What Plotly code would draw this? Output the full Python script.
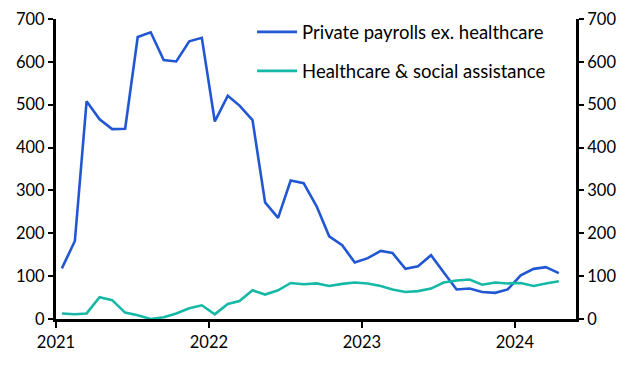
import plotly.graph_objects as go
import pandas as pd

dates = [d.strftime("%Y-%m-%d") for d in pd.date_range("2021-01-01", periods=40, freq="MS") + pd.Timedelta(days=14)]

private_ex_health = [118, 182, 508, 466, 443, 444, 658, 669, 604, 601, 648, 656,
                     461, 521, 498, 464, 272, 236, 323, 317, 263, 193, 172, 132,
                     142, 159, 154, 117, 123, 149, 109, 69, 71, 63, 61, 69,
                     102, 117, 121, 107]
healthcare = [13, 11, 13, 51, 44, 15, 9, 0, 4, 13, 25, 32,
              11, 35, 42, 67, 57, 67, 84, 81, 83, 77, 82, 85,
              83, 77, 69, 63, 65, 71, 85, 90, 92, 80, 85, 83,
              84, 77, 83, 88]

names = ["Private payrolls ex. healthcare", "Healthcare & social assistance"]
colors = ["#2157D3", "#16B8A6"]
year_ticks = ["2021-01-01", "2022-01-01", "2023-01-01", "2024-01-01"]
year_labels = ["2021", "2022", "2023", "2024"]

FONT = "Lato, Open Sans, sans-serif"

fig = go.Figure()
fig.add_trace(go.Scatter(x=dates, y=private_ex_health, name=names[0], mode="lines",
                         line=dict(color=colors[0], width=2.6), legendgroup="a"))
fig.add_trace(go.Scatter(x=dates, y=healthcare, name=names[1], mode="lines",
                         line=dict(color=colors[1], width=2.6), legendgroup="b"))
fig.add_trace(go.Scatter(x=dates, y=healthcare, yaxis="y2", mode="lines",
                         line=dict(width=0), showlegend=False, hoverinfo="skip"))

axis_common = dict(showgrid=False, zeroline=False, showline=True, linecolor="black",
                   linewidth=3, ticks="outside", tickwidth=2, tickcolor="black",
                   tickfont=dict(size=16.5), automargin=False,
                   ticklabeloverflow="allow")

# page body has an 8px default margin, so the figure is drawn 8px smaller
fig.update_layout(
    width=628, height=371,
    margin=dict(l=48, r=60, t=11, b=60, autoexpand=False),
    plot_bgcolor="white", paper_bgcolor="white",
    font=dict(family=FONT, size=16.5, color="black"),
    showlegend=True,
    legend=dict(x=0.377, y=1.019, xanchor="left", yanchor="top",
                bgcolor="rgba(0,0,0,0)", tracegroupgap=12,
                font=dict(size=18.5, family=FONT), itemwidth=40),
    xaxis=dict(type="date", range=["2021-01-01", "2024-05-26"],
               tickvals=year_ticks, ticktext=year_labels, ticklen=6, **axis_common),
    yaxis=dict(range=[0, 700], dtick=100, ticklen=5, **axis_common),
    yaxis2=dict(range=[0, 700], dtick=100, overlaying="y", side="right", ticklen=5,
                **axis_common),
)

fig.write_html("out.html")
